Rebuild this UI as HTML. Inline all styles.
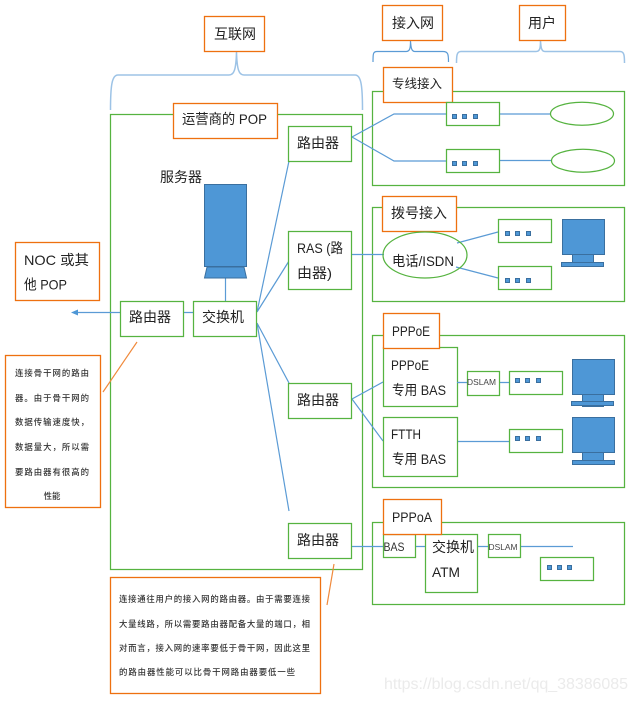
<!DOCTYPE html>
<html><head><meta charset="utf-8">
<style>
html,body{margin:0;padding:0;background:#fff}
svg{display:block}
text{font-family:"Liberation Sans","Noto Sans CJK SC",sans-serif;fill:#222}
.g{fill:#fff;stroke:#56b340;stroke-width:1.25}
.n{fill:none;stroke:#56b340;stroke-width:1.25}
.o{fill:#fff;stroke:#ee7010;stroke-width:1.3}
.l{fill:none;stroke:#5b9bd5;stroke-width:1.2}
.b{fill:none;stroke:#9dc3e6;stroke-width:1.5}
.d{fill:#4e97d6;stroke:#3a6f9f;stroke-width:1}
.t{font-size:14px}
.s{font-size:8.4px;fill:#333;font-weight:500}
.m{font-size:8.5px;fill:#444}
</style></head><body>
<svg width="637" height="702" viewBox="0 0 637 702" xmlns="http://www.w3.org/2000/svg">
<!-- braces -->
<path class="b" d="M110.500 110C110.500 85 112 75 118 75H229C234 75 236 70 236.500 52C237 70 239 75 244 75H355C361 75 362.500 85 362.500 110"/>
<path class="l" d="M373 62C373 54 373 51.500 377 51.500H406C410 51.500 410.500 48 410.500 41C411 48 411.500 51.500 415 51.500H443C448 51.500 448.500 54 448.500 62"/>
<path class="b" d="M456.500 63C456.500 55 457 51.500 461 51.500H536C540 51.500 540.500 48 540.500 41C541 48 541.500 51.500 545 51.500H620C624 51.500 624.500 55 624.500 63"/>
<!-- containers -->
<rect class="n" x="110.500" y="114.500" width="252" height="455"/>
<rect class="n" x="372.500" y="91.500" width="252" height="94"/>
<rect class="n" x="372.500" y="207.500" width="252" height="94"/>
<rect class="n" x="372.500" y="335.500" width="252" height="152"/>
<rect class="n" x="372.500" y="522.500" width="252" height="82"/>
<!-- connectors -->
<path class="l" d="M257 312L289 161M257 312L289 261M257 323L289 383M257 323L289 511"/>
<path class="l" d="M352 137L394 114H446M352 137L394 161H446M499 114H550M499 160.500H551"/>
<path class="l" d="M352 254.500H384M457 243L498 232M456 267L498 278"/>
<path class="l" d="M352 399L383 382M352 399L383 441M457 382.500H467M499 382.500H509M457 441.500H509"/>
<path class="l" d="M352 546.500H384M414 546.500H425M477 546.500H488M520 546.500H573"/>
<path class="l" d="M184 312.500H193M225.500 278V301M78 312.500H120"/>
<path d="M71 312.500L78 309.500V315.500Z" fill="#4e97d6"/>
<path d="M103 392L137 342M327 605L334 564" fill="none" stroke="#f08a3c" stroke-width="1.2"/>
<!-- server -->
<rect class="d" x="204.500" y="184.500" width="42" height="82"/>
<path class="d" d="M207 267H244L246.500 278H204.500Z"/>
<!-- orange labels -->
<rect class="o" x="204.500" y="16.500" width="60" height="35"/><text class="t" x="214" y="39">互联网</text>
<rect class="o" x="173.500" y="103.500" width="104" height="35"/><text class="t" x="182" y="124" textLength="85" lengthAdjust="spacingAndGlyphs">运营商的 POP</text>
<rect class="o" x="382.500" y="5.500" width="60" height="35"/><text class="t" x="392" y="28">接入网</text>
<rect class="o" x="519.500" y="5.500" width="46" height="35"/><text class="t" x="528" y="28">用户</text>
<rect class="o" x="383.500" y="67.500" width="69" height="35"/><text x="392" y="88" style="font-size:12.500px">专线接入</text>
<rect class="o" x="382.500" y="196.500" width="74" height="35"/><text class="t" x="391" y="218">拨号接入</text>
<rect class="o" x="15.500" y="242.500" width="84" height="58"/>
<text class="t" x="24" y="265" textLength="65" lengthAdjust="spacingAndGlyphs">NOC  或其</text><text class="t" x="24" y="289.500" textLength="43" lengthAdjust="spacingAndGlyphs">他 POP</text>
<!-- green nodes -->
<rect class="g" x="288.500" y="126.500" width="63" height="35"/><text class="t" x="297" y="148">路由器</text>
<rect class="g" x="288.500" y="231.500" width="63" height="58"/><text class="t" x="297" y="253" textLength="46" lengthAdjust="spacingAndGlyphs">RAS (路</text><text class="t" x="297" y="278" textLength="35" lengthAdjust="spacingAndGlyphs">由器)</text>
<rect class="g" x="120.500" y="301.500" width="63" height="35"/><text class="t" x="129" y="322">路由器</text>
<rect class="g" x="193.500" y="301.500" width="63" height="35"/><text class="t" x="202" y="322">交换机</text>
<rect class="g" x="288.500" y="383.500" width="63" height="35"/><text class="t" x="297" y="405">路由器</text>
<rect class="g" x="288.500" y="523.500" width="63" height="35"/><text class="t" x="297" y="545">路由器</text>
<text class="t" x="160" y="182">服务器</text>
<!-- ellipses -->
<ellipse class="g" cx="582" cy="113.700" rx="31.500" ry="11.500"/>
<ellipse class="g" cx="583" cy="160.700" rx="31.500" ry="11.500"/>
<ellipse class="n" cx="425" cy="255" rx="42" ry="23"/>
<text class="t" x="392" y="266" textLength="62" lengthAdjust="spacingAndGlyphs">电话/ISDN</text>
<!-- access boxes -->
<rect class="g" x="446.500" y="102.500" width="53" height="23"/>
<rect class="g" x="446.500" y="149.500" width="53" height="23"/>
<rect class="g" x="498.500" y="219.500" width="53" height="23"/>
<rect class="g" x="498.500" y="266.500" width="53" height="23"/>
<rect class="g" x="509.500" y="371.500" width="53" height="23"/>
<rect class="g" x="509.500" y="429.500" width="53" height="23"/>
<rect class="g" x="540.500" y="557.500" width="53" height="23"/>
<g>
<rect class="d" x="452.500" y="114.500" width="4" height="4"/><rect class="d" x="462.500" y="114.500" width="4" height="4"/><rect class="d" x="473.500" y="114.500" width="4" height="4"/>
<rect class="d" x="452.500" y="161.500" width="4" height="4"/><rect class="d" x="462.500" y="161.500" width="4" height="4"/><rect class="d" x="473.500" y="161.500" width="4" height="4"/>
<rect class="d" x="505.500" y="231.500" width="4" height="4"/><rect class="d" x="515.500" y="231.500" width="4" height="4"/><rect class="d" x="526.500" y="231.500" width="4" height="4"/>
<rect class="d" x="505.500" y="278.500" width="4" height="4"/><rect class="d" x="515.500" y="278.500" width="4" height="4"/><rect class="d" x="526.500" y="278.500" width="4" height="4"/>
<rect class="d" x="515.500" y="378.500" width="4" height="4"/><rect class="d" x="525.500" y="378.500" width="4" height="4"/><rect class="d" x="536.500" y="378.500" width="4" height="4"/>
<rect class="d" x="515.500" y="436.500" width="4" height="4"/><rect class="d" x="525.500" y="436.500" width="4" height="4"/><rect class="d" x="536.500" y="436.500" width="4" height="4"/>
<rect class="d" x="547.500" y="565.500" width="4" height="4"/><rect class="d" x="557.500" y="565.500" width="4" height="4"/><rect class="d" x="567.500" y="565.500" width="4" height="4"/>
</g>
<!-- monitors -->
<rect class="d" x="582.500" y="394.500" width="21" height="12"/>
<rect class="d" x="562.500" y="219.500" width="42" height="35"/><rect class="d" x="572.500" y="254.500" width="21" height="8"/><rect class="d" x="561.500" y="262.500" width="42" height="4"/>
<rect class="d" x="572.500" y="359.500" width="42" height="35"/><rect class="d" x="571.500" y="401.500" width="42" height="4"/>
<rect class="d" x="572.500" y="417.500" width="42" height="35"/><rect class="d" x="582.500" y="452.500" width="21" height="8"/><rect class="d" x="572.500" y="460.500" width="42" height="4"/>
<!-- PPPoE group -->
<rect class="g" x="383.500" y="347.500" width="74" height="59"/>
<text class="t" x="391" y="370" textLength="38" lengthAdjust="spacingAndGlyphs">PPPoE</text><text class="t" x="392" y="395" textLength="54" lengthAdjust="spacingAndGlyphs">专用 BAS</text>
<rect class="o" x="383.500" y="313.500" width="56" height="35"/><text class="t" x="392" y="336" textLength="38" lengthAdjust="spacingAndGlyphs">PPPoE</text>
<rect class="g" x="383.500" y="417.500" width="74" height="59"/>
<text class="t" x="391" y="439" textLength="30" lengthAdjust="spacingAndGlyphs">FTTH</text><text class="t" x="392" y="464" textLength="54" lengthAdjust="spacingAndGlyphs">专用 BAS</text>
<rect class="g" x="467.500" y="371.500" width="32" height="24"/><text class="m" x="467" y="385" textLength="29" lengthAdjust="spacingAndGlyphs">DSLAM</text>
<path class="l" d="M457 382.500H460"/>
<!-- PPPoA group -->
<rect class="g" x="383.500" y="534.500" width="32" height="23"/><text x="383.500" y="551" textLength="21" lengthAdjust="spacingAndGlyphs" style="font-size:12px;fill:#333">BAS</text>
<rect class="g" x="425.500" y="534.500" width="52" height="58"/>
<text class="t" x="432" y="552">交换机</text><text class="t" x="432" y="577" textLength="28" lengthAdjust="spacingAndGlyphs">ATM</text>
<rect class="g" x="488.500" y="534.500" width="32" height="23"/><text class="m" x="488.500" y="550" textLength="29" lengthAdjust="spacingAndGlyphs">DSLAM</text>
<rect class="o" x="383.500" y="499.500" width="58" height="35"/><text class="t" x="392" y="522" textLength="40" lengthAdjust="spacingAndGlyphs">PPPoA</text>
<!-- notes -->
<rect class="o" x="5.500" y="355.500" width="95" height="152"/>
<text class="s" text-anchor="middle" x="52" y="376" textLength="74">连接骨干网的路由</text>
<text class="s" text-anchor="middle" x="52" y="401" textLength="74">器。由于骨干网的</text>
<text class="s" text-anchor="middle" x="52" y="425" textLength="74">数据传输速度快，</text>
<text class="s" text-anchor="middle" x="52" y="450" textLength="74">数据量大，所以需</text>
<text class="s" text-anchor="middle" x="52" y="475" textLength="74">要路由器有很高的</text>
<text class="s" text-anchor="middle" x="52" y="499">性能</text>
<rect class="o" x="110.500" y="577.500" width="210" height="116"/>
<text class="s" x="119" y="602" textLength="191">连接通往用户的接入网的路由器。由于需要连接</text>
<text class="s" x="119" y="627" textLength="191">大量线路，所以需要路由器配备大量的端口，相</text>
<text class="s" x="119" y="651" textLength="191">对而言，接入网的速率要低于骨干网，因此这里</text>
<text class="s" x="119" y="675" textLength="176">的路由器性能可以比骨干网路由器要低一些</text>
<!-- watermark -->
<text x="384" y="689" textLength="244" style="font-size:16px;fill:#ebebeb">https://blog.csdn.net/qq_38386085</text>
</svg>
</body></html>
